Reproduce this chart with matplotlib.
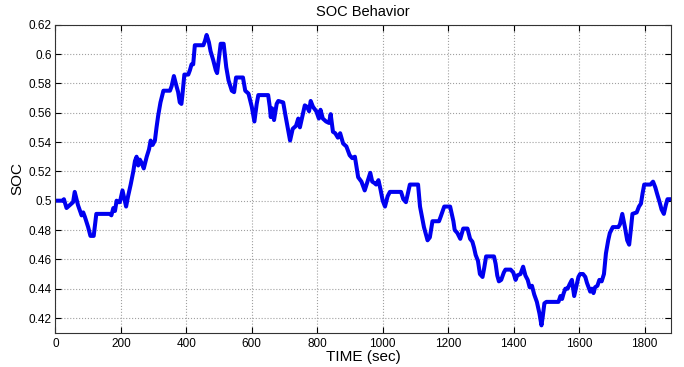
import numpy as np
import matplotlib
matplotlib.use("Agg")
import matplotlib.pyplot as plt
from matplotlib.ticker import FuncFormatter

plt.rcParams['font.family'] = ['Liberation Sans', 'DejaVu Sans']

# state of charge trace (time in s, SOC fraction)
time_s = [0, 23, 26, 34, 44, 54, 59, 69, 80, 85, 90, 100, 107, 117, 125, 166,
          171, 177, 182, 187, 192, 197, 205, 209, 216, 222, 230, 238, 243, 248,
          253, 258, 263, 270, 279, 286, 291, 297, 304, 309, 314, 321, 330, 350,
          355, 362, 370, 375, 380, 385, 388, 394, 406, 411, 416, 421, 426, 452,
          457, 462, 469, 474, 482, 490, 494, 500, 505, 514, 522, 529, 539, 546,
          552, 573, 580, 590, 600, 608, 615, 620, 650, 655, 658, 662, 668, 676,
          681, 696, 703, 712, 717, 725, 735, 742, 747, 755, 762, 769, 775, 780,
          787, 797, 805, 810, 817, 827, 836, 841, 848, 855, 863, 870, 879, 889,
          899, 907, 915, 920, 925, 935, 945, 955, 962, 968, 975, 980, 987, 993,
          1000, 1007, 1015, 1022, 1056, 1063, 1071, 1078, 1083, 1108, 1114, 1126,
          1137, 1144, 1152, 1172, 1177, 1188, 1206, 1211, 1216, 1220, 1228, 1237,
          1242, 1246, 1259, 1267, 1274, 1279, 1284, 1291, 1297, 1305, 1310, 1316,
          1340, 1345, 1350, 1355, 1362, 1370, 1375, 1391, 1399, 1406, 1411, 1421,
          1429, 1436, 1443, 1449, 1456, 1463, 1471, 1479, 1485, 1489, 1494, 1500,
          1537, 1543, 1548, 1553, 1558, 1565, 1571, 1578, 1585, 1591, 1598, 1603,
          1612, 1619, 1624, 1629, 1634, 1639, 1644, 1649, 1656, 1662, 1669, 1676,
          1682, 1689, 1694, 1703, 1720, 1725, 1732, 1740, 1747, 1753, 1758, 1763,
          1776, 1783, 1789, 1794, 1799, 1818, 1826, 1833, 1838, 1846, 1852, 1859,
          1865, 1870, 1877]
soc = [0.500, 0.500, 0.501, 0.495, 0.497, 0.499, 0.506, 0.497, 0.490, 0.492,
       0.489, 0.482, 0.476, 0.476, 0.491, 0.491, 0.490, 0.495, 0.493, 0.500,
       0.499, 0.499, 0.507, 0.503, 0.496, 0.503, 0.511, 0.520, 0.527, 0.530,
       0.524, 0.528, 0.526, 0.522, 0.530, 0.535, 0.541, 0.538, 0.541, 0.550,
       0.558, 0.567, 0.575, 0.575, 0.578, 0.585, 0.578, 0.574, 0.567, 0.566,
       0.572, 0.586, 0.586, 0.589, 0.593, 0.593, 0.606, 0.606, 0.609, 0.613,
       0.608, 0.602, 0.596, 0.589, 0.587, 0.598, 0.607, 0.607, 0.591, 0.582,
       0.575, 0.574, 0.584, 0.584, 0.575, 0.573, 0.564, 0.554, 0.566, 0.572,
       0.572, 0.564, 0.557, 0.563, 0.555, 0.566, 0.568, 0.567, 0.558, 0.547,
       0.541, 0.549, 0.551, 0.556, 0.550, 0.558, 0.565, 0.564, 0.561, 0.568,
       0.564, 0.561, 0.556, 0.562, 0.556, 0.554, 0.553, 0.559, 0.547, 0.546,
       0.543, 0.546, 0.539, 0.537, 0.531, 0.529, 0.530, 0.523, 0.516, 0.513,
       0.507, 0.514, 0.519, 0.513, 0.512, 0.511, 0.514, 0.508, 0.500, 0.496,
       0.503, 0.506, 0.506, 0.501, 0.499, 0.506, 0.511, 0.511, 0.496, 0.482,
       0.473, 0.475, 0.486, 0.486, 0.489, 0.496, 0.496, 0.491, 0.486, 0.480,
       0.478, 0.474, 0.478, 0.481, 0.481, 0.474, 0.472, 0.468, 0.463, 0.459,
       0.450, 0.448, 0.454, 0.462, 0.462, 0.457, 0.449, 0.445, 0.446, 0.451,
       0.453, 0.453, 0.451, 0.446, 0.449, 0.450, 0.455, 0.449, 0.446, 0.441,
       0.442, 0.436, 0.431, 0.423, 0.415, 0.421, 0.430, 0.431, 0.431, 0.435,
       0.433, 0.437, 0.440, 0.440, 0.443, 0.446, 0.435, 0.441, 0.448, 0.450,
       0.450, 0.448, 0.444, 0.441, 0.438, 0.440, 0.437, 0.441, 0.442, 0.446,
       0.445, 0.450, 0.464, 0.473, 0.478, 0.482, 0.482, 0.484, 0.491, 0.482,
       0.473, 0.470, 0.480, 0.491, 0.492, 0.496, 0.498, 0.505, 0.511, 0.511,
       0.513, 0.509, 0.505, 0.499, 0.494, 0.491, 0.497, 0.501, 0.501]

x_ticks = np.arange(0, 1801, 200)
y_ticks = np.arange(0.42, 0.621, 0.02)

fig = plt.figure(figsize=(6.84, 3.67), dpi=100)
ax = fig.add_axes([0.081, 0.0935, 0.8996, 0.8392])

ax.plot(time_s, soc, color='#0000f0', linewidth=2.9, solid_joinstyle='round')

ax.set_xlim(0, 1880)
ax.set_ylim(0.41, 0.62)
ax.set_xticks(x_ticks)
ax.set_yticks(y_ticks)
# matlab-style labels: 0.5 rather than 0.50
ax.yaxis.set_major_formatter(FuncFormatter(lambda v, p: '%g' % round(v, 2)))

ax.grid(True, linestyle=':', color='#a0a0a0', linewidth=0.8)
ax.tick_params(direction='in', top=True, right=True, labelsize=8.5,
               length=4, width=0.8)
ax.tick_params(axis='y', pad=2.5)
ax.tick_params(axis='x', pad=4)
for s in ax.spines.values():
    s.set_linewidth(0.8)
    s.set_color('#333333')

ax.set_title('SOC Behavior', fontsize=10.5, pad=6)
ax.set_xlabel('TIME (sec)', fontsize=11, labelpad=0)
ax.set_ylabel('SOC', fontsize=11, labelpad=3)

fig.savefig('out.png', dpi=100)
